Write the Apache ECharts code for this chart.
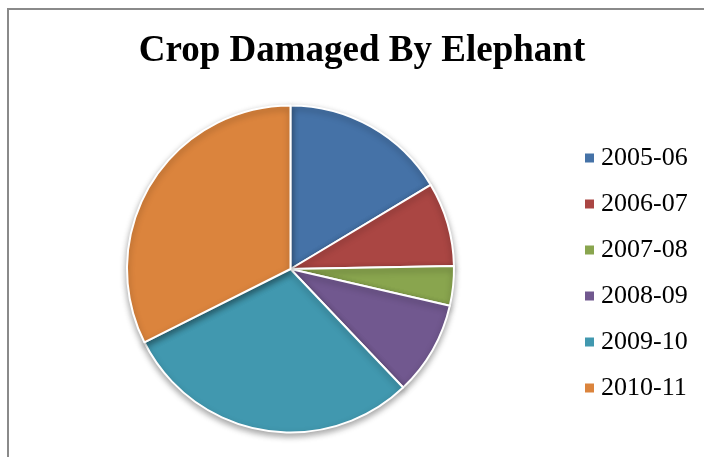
<!DOCTYPE html>
<html>
<head>
<meta charset="utf-8">
<script src="https://cdn.jsdelivr.net/npm/echarts@6/dist/echarts.min.js"></script>
<style>
html,body{margin:0;padding:0;background:#fff;}
#chart{width:704px;height:457px;}
</style>
</head>
<body>
<div id="chart"></div>
<script>
const categories = ['2005-06', '2006-07', '2007-08', '2008-09', '2009-10', '2010-11'];
const values = [16.4, 8.3, 3.9, 9.3, 29.7, 32.4];
const colors = ['#4572A7', '#AA4643', '#89A54E', '#71588F', '#4198AF', '#DB843D'];

const chart = echarts.init(document.getElementById('chart'), null, {renderer: 'canvas'});
const serif = "'Times New Roman', 'Liberation Serif', serif";
chart.setOption({
  animation: false,
  backgroundColor: '#ffffff',
  title: {
    text: 'Crop Damaged By Elephant',
    left: 362,
    textAlign: 'center',
    top: 33,
    padding: 0,
    textStyle: {fontFamily: serif, fontWeight: 'bold', fontSize: 37, color: '#000'}
  },
  legend: {
    orient: 'vertical',
    left: 583,
    top: 145,
    padding: 0,
    itemWidth: 11,
    itemHeight: 11,
    itemGap: 20,
    icon: 'rect',
    textStyle: {fontFamily: serif, fontSize: 26, color: '#000', lineHeight: 26, padding: [0,0,0,1]},
    data: categories
  },
  graphic: [{
    type: 'rect',
    shape: {x: 8, y: 9, width: 800, height: 600},
    style: {fill: 'none', stroke: '#8a8a8a', lineWidth: 2},
    silent: true
  }],
  series: [{
    type: 'pie',
    center: [290.5, 269],
    radius: 163.5,
    startAngle: 90,
    clockwise: true,
    label: {show: false},
    labelLine: {show: false},
    itemStyle: {borderColor: '#fff', borderWidth: 2, shadowBlur: 6, shadowColor: 'rgba(0,0,0,0.35)', shadowOffsetY: 3},
    data: categories.map((c, i) => ({name: c, value: values[i], itemStyle: {color: colors[i]}}))
  }]
});
</script>
</body>
</html>
